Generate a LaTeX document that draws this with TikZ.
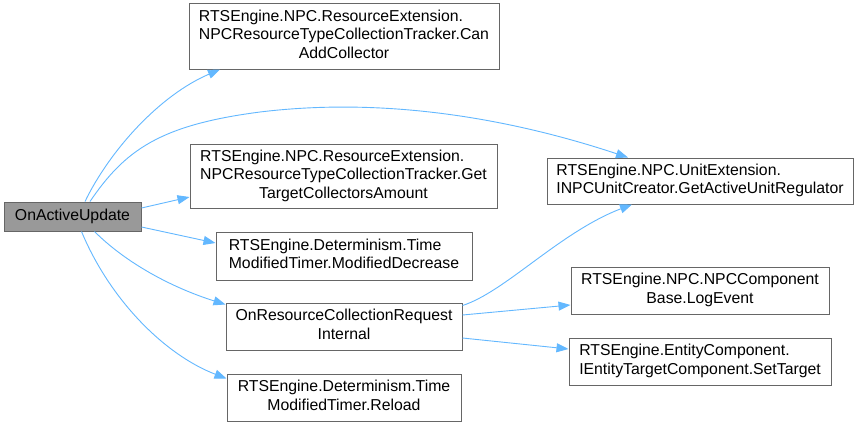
\documentclass[tikz,border=0pt]{standalone}
\usepackage{fontspec}
\setmainfont{Liberation Sans}
\usetikzlibrary{arrows.meta}
\definecolor{edgec}{HTML}{63B8FF}
\definecolor{boxb}{HTML}{666666}
\definecolor{rootf}{HTML}{999999}
\newcommand{\lastc}[1]{\multicolumn{1}{@{}c@{}}{#1}}
\newcommand{\lbl}[1]{\begin{tabular}{@{}l@{}}#1\end{tabular}}
\begin{document}
\begin{tikzpicture}[x=1pt,y=-1pt,
 box/.style={draw=boxb, line width=1pt, fill=white, align=center, inner sep=0pt,
   font=\fontsize{15.8}{18.5}\selectfont},
 edge/.style={draw=edgec, line width=0.9pt, -{Triangle[length=12pt,width=9pt]}}]
\useasboundingbox[fill=white] (0,0) rectangle (858,426);

\node[box, fill=rootf, minimum width=137pt, minimum height=29pt] (root) at (72.5,216.5) {OnActiveUpdate};
\node[box, minimum width=310pt, minimum height=66pt] (can) at (344,36) {\lbl{RTSEngine.NPC.ResourceExtension.\\NPCResourceTypeCollectionTracker.Can\\\lastc{AddCollector}}};
\node[box, minimum width=307pt, minimum height=64pt] (get) at (343.5,176) {\lbl{RTSEngine.NPC.ResourceExtension.\\NPCResourceTypeCollectionTracker.Get\\\lastc{TargetCollectorsAmount}}};
\node[box, minimum width=256pt, minimum height=48pt] (mod) at (344,256) {\lbl{RTSEngine.Determinism.Time\\\lastc{ModifiedTimer.ModifiedDecrease}}};
\node[box, minimum width=236pt, minimum height=47pt] (orc) at (344,326.5) {\lbl{OnResourceCollectionRequest\\\lastc{Internal}}};
\node[box, minimum width=234pt, minimum height=47pt] (rel) at (344,397.5) {\lbl{RTSEngine.Determinism.Time\\\lastc{ModifiedTimer.Reload}}};
\node[box, minimum width=306pt, minimum height=46pt] (gau) at (700,181) {\lbl{RTSEngine.NPC.UnitExtension.\\\lastc{INPCUnitCreator.GetActiveUnitRegulator}}};
\node[box, minimum width=258pt, minimum height=47pt] (log) at (700,290.5) {\lbl{RTSEngine.NPC.NPCComponent\\\lastc{Base.LogEvent}}};
\node[box, minimum width=262pt, minimum height=47pt] (set) at (700,361.5) {\lbl{RTSEngine.EntityComponent.\\\lastc{IEntityTargetComponent.SetTarget}}};

\draw[edge] ([xshift=12.5pt]root.north) .. controls (110,150) and (160,95) .. ([xshift=-124pt]can.south);
\draw[edge] ([xshift=17.5pt]root.north) .. controls (125,150) and (160,125) .. (260,112)
  .. controls (400,95) and (530,125) .. ([xshift=-72pt]gau.north);
\draw[edge] ([yshift=8.5pt]root.east) -- ([yshift=-21pt]get.west);
\draw[edge] ([yshift=-10.5pt]root.east) -- ([yshift=13pt]mod.west);
\draw[edge] ([xshift=22pt]root.south) .. controls (125,262) and (170,287) .. ([yshift=22pt]orc.west);
\draw[edge] ([xshift=9pt]root.south) .. controls (110,300) and (165,355) .. ([yshift=19pt]rel.west);
\draw[edge] ([yshift=21pt]orc.east) .. controls (505,292) and (560,232) .. ([xshift=-68pt]gau.south);
\draw[edge] ([yshift=11.5pt]orc.east) -- ([yshift=-14.5pt]log.west);
\draw[edge] ([yshift=-11.5pt]orc.east) -- ([yshift=12.5pt]set.west);
\end{tikzpicture}
\end{document}
